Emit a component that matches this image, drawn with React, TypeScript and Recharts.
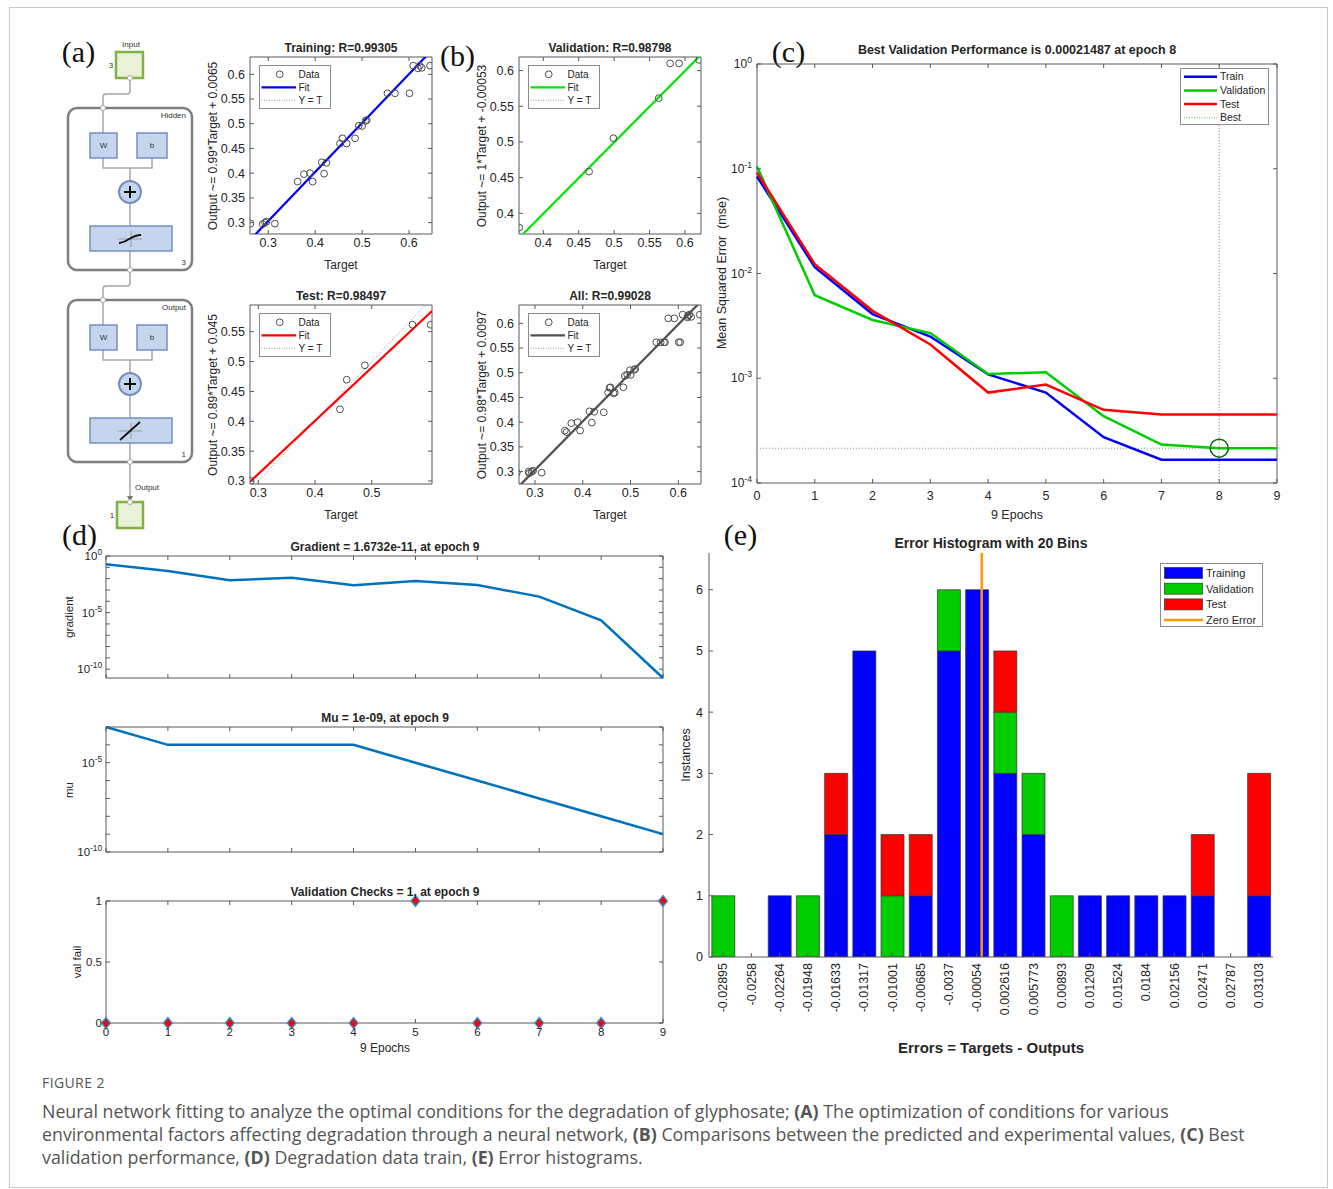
import React from "react";
import {
  ScatterChart,
  Scatter,
  LineChart,
  Line,
  BarChart,
  Bar,
  XAxis,
  YAxis,
  ReferenceLine,
  ReferenceArea,
  ReferenceDot,
} from "recharts";

const SANS = '"Liberation Sans", Arial, Helvetica, sans-serif';
const SERIF = '"Liberation Serif", "Times New Roman", serif';
const CAPTION = '"Open Sans", "Noto Sans", sans-serif';
const AX = "#595959";
const TX = "#262626";

// (b) regression: targets vs network outputs
const trainTarget = [0.262, 0.288, 0.293, 0.296, 0.314, 0.3625, 0.376, 0.389, 0.3945, 0.414, 0.419, 0.424, 0.453, 0.458, 0.467, 0.485, 0.493, 0.5, 0.5075, 0.51, 0.554, 0.57, 0.601, 0.609, 0.619, 0.623, 0.627, 0.645];
const trainOutput = [0.298, 0.297, 0.3, 0.302, 0.298, 0.383, 0.398, 0.4, 0.383, 0.422, 0.399, 0.421, 0.46, 0.4705, 0.46, 0.4705, 0.496, 0.4955, 0.506, 0.5076, 0.5616, 0.5616, 0.5616, 0.6175, 0.612, 0.6175, 0.613, 0.6175];
const valTarget = [0.366, 0.4646, 0.4989, 0.563, 0.579, 0.5917, 0.62];
const valOutput = [0.38, 0.4584, 0.5052, 0.5613, 0.61, 0.61, 0.615];
const testTarget = [0.2866, 0.444, 0.456, 0.488, 0.572, 0.604];
const testOutput = [0.3, 0.42, 0.4696, 0.4937, 0.5617, 0.5617];

// (c) performance
const epochs = [0, 1, 2, 3, 4, 5, 6, 7, 8, 9];
const perfTrain = [0.0843, 0.0115, 0.0041, 0.0025, 0.00109, 0.00073, 0.000274, 0.000167, 0.000167, 0.000167];
const perfVal = [0.105, 0.0062, 0.0036, 0.0027, 0.0011, 0.00114, 0.000434, 0.000233, 0.00021487, 0.00021487];
const perfTest = [0.092, 0.01225, 0.0044, 0.0021, 0.00073, 0.00087, 0.0005, 0.00045, 0.00045, 0.00045];
const bestEpoch = 8;
const bestPerf = 0.00021487;
const perfTicks = [1e-4, 1e-3, 1e-2, 1e-1, 1];

// (d) training state
const gradient = [0.19, 0.047, 0.0071, 0.0122, 0.0026, 0.0062, 0.0027, 0.00026, 2.1e-6, 1.6732e-11];
const mu = [1e-3, 1e-4, 1e-4, 1e-4, 1e-4, 1e-5, 1e-6, 1e-7, 1e-8, 1e-9];
const valFail = [0, 0, 0, 0, 0, 1, 0, 0, 0, 1];
const gradTicks = [1, 1e-1, 1e-2, 1e-3, 1e-4, 1e-5, 1e-6, 1e-7, 1e-8, 1e-9, 1e-10];
const muTicks = [1e-3, 1e-4, 1e-5, 1e-6, 1e-7, 1e-8, 1e-9, 1e-10];

// (e) error histogram
const binLabels = ["-0.02895", "-0.0258", "-0.02264", "-0.01948", "-0.01633", "-0.01317", "-0.01001", "-0.00685", "-0.0037", "-0.00054", "0.002616", "0.005773", "0.00893", "0.01209", "0.01524", "0.0184", "0.02156", "0.02471", "0.02787", "0.03103"];
const histTrain = [0, 0, 1, 0, 2, 5, 0, 1, 5, 6, 3, 2, 0, 1, 1, 1, 1, 1, 0, 1];
const histVal = [1, 0, 0, 1, 0, 0, 1, 0, 1, 0, 1, 1, 1, 0, 0, 0, 0, 0, 0, 0];
const histTest = [0, 0, 0, 0, 1, 0, 1, 1, 0, 0, 1, 0, 0, 0, 0, 0, 0, 1, 0, 2];
const histTicks = [0, 1, 2, 3, 4, 5, 6];
const zeroError = 0;

const pow10 = (v: number) => {
  const e = Math.round(Math.log10(v));
  return (
    <>
      <tspan>10</tspan>
      <tspan dy={-5} fontSize="0.72em">
        {String(e)}
      </tspan>
    </>
  );
};

type TickCfg = {
  span: number;
  gap: number;
  size?: number;
  len?: number;
  far?: boolean;
  fmt?: (v: any) => React.ReactNode;
  label?: (v: any) => boolean;
};

const bottomTick = (c: TickCfg) => (p: any) => {
  const { span, gap, size = 12, len = 4, far = true } = c;
  const fmt = c.fmt || ((v: any) => String(v));
  const label = c.label || (() => true);
  const v = p.payload.value;
  const ay = p.y - gap;
  return (
    <g>
      <line x1={p.x} x2={p.x} y1={ay} y2={ay - len} stroke={AX} />
      {far && <line x1={p.x} x2={p.x} y1={ay - span} y2={ay - span + len} stroke={AX} />}
      {label(v) && (
        <text x={p.x} y={p.y} dy="0.72em" textAnchor="middle" fontSize={size} fontFamily={SANS} fill={TX}>
          {fmt(v)}
        </text>
      )}
    </g>
  );
};

const leftTick = (c: TickCfg) => (p: any) => {
  const { span, gap, size = 12, len = 4, far = true } = c;
  const fmt = c.fmt || ((v: any) => String(v));
  const label = c.label || (() => true);
  const v = p.payload.value;
  const ax = p.x + gap;
  return (
    <g>
      <line x1={ax} x2={ax + len} y1={p.y} y2={p.y} stroke={AX} />
      {far && <line x1={ax + span} x2={ax + span - len} y1={p.y} y2={p.y} stroke={AX} />}
      {label(v) && (
        <text x={p.x} y={p.y} dy="0.35em" textAnchor="end" fontSize={size} fontFamily={SANS} fill={TX}>
          {fmt(v)}
        </text>
      )}
    </g>
  );
};

function Label({ x, y, text, size = 12, bold = false, rotate = 0, family = SANS, color = TX }: any) {
  return (
    <div
      style={{
        position: "absolute",
        left: x,
        top: y,
        transform: `translate(-50%, -50%) rotate(${rotate}deg)`,
        fontSize: size,
        fontWeight: bold ? 700 : 400,
        fontFamily: family,
        color,
        whiteSpace: "pre",
        lineHeight: 1,
      }}
    >
      {text}
    </div>
  );
}

const openCircle = (p: any) => <circle cx={p.cx} cy={p.cy} r={3.4} fill="none" stroke="#4d4d4d" strokeWidth={1} />;

function RegLegend({ x, y, color }: any) {
  return (
    <svg style={{ position: "absolute", left: x, top: y }} width={72} height={44}>
      <rect x={0.5} y={0.5} width={71} height={43} fill="#fff" stroke="#8c8c8c" />
      <circle cx={20.7} cy={9.3} r={3.4} fill="none" stroke="#4d4d4d" />
      <text x={39.5} y={9.3} dy="0.35em" fontSize={10} fontFamily={SANS} fill={TX}>Data</text>
      <line x1={2.5} x2={37} y1={22.3} y2={22.3} stroke={color} strokeWidth={2.2} />
      <text x={39.5} y={22.3} dy="0.35em" fontSize={10} fontFamily={SANS} fill={TX}>Fit</text>
      <line x1={2.5} x2={37} y1={35.3} y2={35.3} stroke="#9a9a9a" strokeDasharray="1 1.5" />
      <text x={39.5} y={35.3} dy="0.35em" fontSize={10} fontFamily={SANS} fill={TX}>Y = T</text>
    </svg>
  );
}

function RegPlot({ left, top, w, h, xDom, yDom, xTicks, yTicks, target, output, fit, color, title, ylabel }: any) {
  const L = 46, T = 6, R = 4, B = 22;
  const pts = target.map((t: number, i: number) => ({ t, o: output[i] }));
  const [a, b] = fit;
  const [x0, x1] = xDom;
  return (
    <>
      <div style={{ position: "absolute", left: left - L, top: top - T }}>
        <ScatterChart width={w + L + R} height={h + T + B} margin={{ top: T, right: R, bottom: 0, left: 0 }}>
          <XAxis type="number" dataKey="t" domain={xDom} ticks={xTicks} allowDataOverflow interval={0} tickSize={0} tickMargin={4} tickLine={false} axisLine={false} height={B} tick={bottomTick({ span: h, gap: 4, size: 12.5 })} />
          <YAxis type="number" dataKey="o" domain={yDom} ticks={yTicks} allowDataOverflow interval={0} tickSize={0} tickMargin={5} tickLine={false} axisLine={false} width={L} tick={leftTick({ span: w, gap: 5, size: 12.5 })} />
          <ReferenceArea x1={x0} x2={x1} y1={yDom[0]} y2={yDom[1]} fill="none" stroke={AX} ifOverflow="visible" />
          <ReferenceLine segment={[{ x: x0, y: x0 }, { x: x1, y: x1 }]} stroke="#8c8c8c" strokeDasharray="1 2" ifOverflow="hidden" />
          <ReferenceLine segment={[{ x: x0, y: a * x0 + b }, { x: x1, y: a * x1 + b }]} stroke={color} strokeWidth={2.2} ifOverflow="hidden" />
          <Scatter data={pts} isAnimationActive={false} shape={openCircle} />
        </ScatterChart>
      </div>
      <Label x={left + w / 2} y={top - 9} text={title} bold />
      <Label x={left - 37} y={top + h / 2} text={ylabel} rotate={-90} />
      <Label x={left + w / 2} y={top + h + 31} text="Target" />
      <RegLegend x={left + 9} y={top + 8} color={color} />
    </>
  );
}

function NetworkDiagram() {
  const G = "#a6a6a6";
  const bf = "#c6d5ee", bs = "#7090c4";
  const gf = "#e9f2d8", gs = "#7cb342";
  const small: any = { fontSize: 8, fontFamily: SANS, fill: "#333" };
  const layer = (top: number, name: string, n: string, lin: boolean) => {
    const cy = top + 131;
    return (
      <g key={name}>
        <rect x={68} y={top} width={124} height={162} rx={9} fill="#fff" stroke="#7f7f7f" strokeWidth={2.5} />
        <text x={186} y={top + 10} textAnchor="end" {...small}>{name}</text>
        <text x={186} y={top + 157} textAnchor="end" {...small}>{n}</text>
        <line x1={103} x2={103} y1={top} y2={top + 25} stroke={G} strokeWidth={1.5} />
        <path d={`M103 ${top + 50} V${top + 60} H152 V${top + 50} M130 ${top + 60} V${top + 73}`} fill="none" stroke={G} strokeWidth={1.5} />
        <line x1={130} x2={130} y1={top + 95} y2={top + 118} stroke={G} strokeWidth={1.5} />
        <line x1={130} x2={130} y1={top + 143} y2={top + 162} stroke={G} strokeWidth={1.5} />
        <rect x={90} y={top + 25} width={27} height={25} fill={bf} stroke={bs} strokeWidth={1.5} />
        <text x={103.5} y={top + 37.5} dy="0.35em" textAnchor="middle" {...small}>W</text>
        <rect x={137} y={top + 25} width={30} height={25} fill={bf} stroke={bs} strokeWidth={1.5} />
        <text x={152} y={top + 37.5} dy="0.35em" textAnchor="middle" {...small}>b</text>
        <circle cx={130} cy={top + 84} r={11} fill={bf} stroke={bs} strokeWidth={2} />
        <path d={`M124 ${top + 84} H136 M130 ${top + 78} V${top + 90}`} stroke="#111" strokeWidth={2} />
        <rect x={90} y={top + 118} width={82} height={25} fill={bf} stroke={bs} strokeWidth={1.5} />
        <path d={`M118 ${cy} H142 M131 ${cy - 8} V${cy + 8}`} stroke="#9a9a9a" strokeWidth={1} />
        {lin ? (
          <line x1={120} y1={cy + 9} x2={140} y2={cy - 9} stroke="#111" strokeWidth={1.8} />
        ) : (
          <path d={`M119 ${cy + 4} C127 ${cy + 4}, 131 ${cy - 4}, 141 ${cy - 4}`} fill="none" stroke="#111" strokeWidth={1.8} />
        )}
        <circle cx={103} cy={top} r={2.5} fill="#fff" stroke={G} />
        <circle cx={130} cy={top + 162} r={2.5} fill="#fff" stroke={G} />
      </g>
    );
  };
  return (
    <svg style={{ position: "absolute", left: 0, top: 0 }} width={200} height={540}>
      <text x={131} y={47} textAnchor="middle" {...small}>Input</text>
      <text x={111} y={68} textAnchor="middle" {...small}>3</text>
      <path d="M130 78 V91 Q130 94 127 94 H106 Q103 94 103 97 V108" fill="none" stroke={G} strokeWidth={1.5} />
      <path d="M130 270 V283 Q130 286 127 286 H106 Q103 286 103 289 V300" fill="none" stroke={G} strokeWidth={1.5} />
      <line x1={130} x2={130} y1={462} y2={498} stroke={G} strokeWidth={1.5} />
      <path d="M127 496 L130 502 L133 496 Z" fill="#777" />
      {layer(108, "Hidden", "3", false)}
      {layer(300, "Output", "1", true)}
      <rect x={116} y={52} width={27} height={26} fill={gf} stroke={gs} strokeWidth={2.5} />
      <circle cx={130} cy={78} r={2.5} fill="#fff" stroke={G} />
      <text x={147} y={490} textAnchor="middle" {...small}>Output</text>
      <rect x={117} y={502} width={26} height={26} fill={gf} stroke={gs} strokeWidth={2.5} />
      <circle cx={130} cy={502} r={2.5} fill="#fff" stroke={G} />
      <text x={112} y={518} textAnchor="middle" {...small}>1</text>
    </svg>
  );
}

function PerfPanel() {
  const left = 757, top = 64, w = 520, h = 419;
  const L = 50, T = 14, R = 6, B = 24;
  const rows = epochs.map((e, i) => ({ epoch: e, train: perfTrain[i], val: perfVal[i], test: perfTest[i] }));
  const leg = [
    ["Train", "#0000ff", false],
    ["Validation", "#00cc00", false],
    ["Test", "#ff0000", false],
    ["Best", "#66aa66", true],
  ] as const;
  return (
    <>
      <div style={{ position: "absolute", left: left - L, top: top - T }}>
        <LineChart width={w + L + R} height={h + T + B} data={rows} margin={{ top: T, right: R, bottom: 0, left: 0 }}>
          <XAxis type="number" dataKey="epoch" domain={[0, 9]} ticks={epochs} interval={0} tickSize={0} tickMargin={8} tickLine={false} axisLine={false} height={B} tick={bottomTick({ span: h, gap: 8, size: 12.5 })} />
          <YAxis type="number" scale="log" domain={[1e-4, 1]} ticks={perfTicks} allowDataOverflow interval={0} tickSize={0} tickMargin={5} tickLine={false} axisLine={false} width={L} tick={leftTick({ span: w, gap: 5, size: 12, fmt: pow10 })} />
          <ReferenceArea x1={0} x2={9} y1={1e-4} y2={1} fill="none" stroke={AX} ifOverflow="visible" />
          <ReferenceLine x={bestEpoch} stroke="#66aa66" strokeDasharray="1 2" />
          <ReferenceLine y={bestPerf} stroke="#66aa66" strokeDasharray="1 2" />
          <Line dataKey="train" stroke="#0000ff" strokeWidth={2.5} dot={false} isAnimationActive={false} />
          <Line dataKey="val" stroke="#00cc00" strokeWidth={2.5} dot={false} isAnimationActive={false} />
          <Line dataKey="test" stroke="#ff0000" strokeWidth={2.5} dot={false} isAnimationActive={false} />
          <ReferenceDot x={bestEpoch} y={bestPerf} r={9} fill="none" stroke="#006e00" strokeWidth={1.5} />
        </LineChart>
      </div>
      <Label x={1017} y={50} text="Best Validation Performance is 0.00021487 at epoch 8" bold size={12.5} />
      <Label x={722} y={273} text="Mean Squared Error  (mse)" rotate={-90} size={12.5} />
      <Label x={1017} y={515} text="9 Epochs" size={12.5} />
      <svg style={{ position: "absolute", left: 1180, top: 68 }} width={89} height={57}>
        <rect x={0.5} y={0.5} width={88} height={56} fill="#fff" stroke="#8c8c8c" />
        {leg.map(([n, c, d], i) => (
          <g key={n}>
            <line x1={4} x2={37} y1={8.7 + i * 13.7} y2={8.7 + i * 13.7} stroke={c} strokeWidth={d ? 1 : 2.5} strokeDasharray={d ? "1 1.5" : undefined} />
            <text x={40} y={8.7 + i * 13.7} dy="0.35em" fontSize={10.5} fontFamily={SANS} fill={TX}>{n}</text>
          </g>
        ))}
      </svg>
    </>
  );
}

function StatePlot({ top, h, values, dom, ticks, log, labelled, showX, title, ylabel, yl, marks }: any) {
  const left = 106, w = 557;
  const L = 40, T = 14, R = 8, B = showX ? 20 : 6;
  const rows = epochs.map((e, i) => ({ epoch: e, v: values[i] }));
  const yFmt = log ? pow10 : (v: number) => String(v);
  const xAxis = (
    <XAxis type="number" dataKey="epoch" domain={[0, 9]} ticks={epochs} interval={0} tickSize={0} tickMargin={5} tickLine={false} axisLine={false} height={B} tick={bottomTick({ span: h, gap: 5, size: 11.5, label: () => showX })} />
  );
  const yAxis = (
    <YAxis type="number" dataKey="v" scale={log ? "log" : "linear"} domain={dom} ticks={ticks} interval={0} tickSize={0} tickMargin={4} tickLine={false} axisLine={false} width={L} tick={leftTick({ span: w, gap: 4, size: 11.5, fmt: yFmt, label: labelled })} />
  );
  const frame = <ReferenceArea x1={0} x2={9} y1={dom[0]} y2={dom[1]} fill="none" stroke={AX} ifOverflow="visible" />;
  const diamond = (p: any) => (
    <polygon points={`${p.cx},${p.cy - 5.5} ${p.cx + 4.5},${p.cy} ${p.cx},${p.cy + 5.5} ${p.cx - 4.5},${p.cy}`} fill="#ff0000" stroke="#3d8fd6" strokeWidth={1.2} />
  );
  return (
    <>
      <div style={{ position: "absolute", left: left - L, top: top - T }}>
        {marks ? (
          <ScatterChart width={w + L + R} height={h + T + B} margin={{ top: T, right: R, bottom: 0, left: 0 }}>
            {xAxis}
            {yAxis}
            {frame}
            <Scatter data={rows} isAnimationActive={false} shape={diamond} />
          </ScatterChart>
        ) : (
          <LineChart width={w + L + R} height={h + T + B} data={rows} margin={{ top: T, right: R, bottom: 0, left: 0 }}>
            {xAxis}
            {yAxis}
            {frame}
            <Line dataKey="v" stroke="#0072bd" strokeWidth={2.5} dot={false} isAnimationActive={false} />
          </LineChart>
        )}
      </div>
      <Label x={385} y={top - 9} text={title} bold size={12} />
      <Label x={yl} y={top + h / 2} text={ylabel} rotate={-90} size={11.5} />
    </>
  );
}

function HistPanel() {
  const left = 709, top = 553, w = 564, h = 404;
  const L = 30, T = 2, R = 4, B = 62;
  const centers = binLabels.map((s) => Number(s));
  const rows = binLabels.map((bin, i) => ({ bin, c: centers[i], train: histTrain[i], val: histVal[i], test: histTest[i] }));
  const half = (centers[centers.length - 1] - centers[0]) / (centers.length - 1) / 2;
  const numDom = [centers[0] - half, centers[centers.length - 1] + half];
  const xTick = (p: any) => {
    const ay = p.y - 6;
    return (
      <g>
        <line x1={p.x} x2={p.x} y1={ay} y2={ay - 4} stroke={AX} />
        <text transform={`rotate(-90 ${p.x} ${p.y})`} x={p.x} y={p.y} dy="0.35em" textAnchor="end" fontSize={12.5} fontFamily={SANS} fill={TX}>
          {p.payload.value}
        </text>
      </g>
    );
  };
  const leg = [
    ["Training", "#0000ff"],
    ["Validation", "#00cc00"],
    ["Test", "#ff0000"],
  ];
  return (
    <>
      <div style={{ position: "absolute", left: left - L, top: top - T }}>
        <BarChart width={w + L + R} height={h + T + B} data={rows} margin={{ top: T, right: R, bottom: 0, left: 0 }} barCategoryGap="10%">
          <XAxis xAxisId="cat" dataKey="bin" type="category" interval={0} tickSize={0} tickMargin={6} tickLine={false} axisLine={{ stroke: AX }} height={B} tick={xTick} />
          <XAxis xAxisId="num" dataKey="c" type="number" domain={numDom} allowDataOverflow hide />
          <YAxis type="number" domain={[0, 6.6]} ticks={histTicks} allowDataOverflow interval={0} tickSize={0} tickMargin={6} tickLine={false} axisLine={{ stroke: AX }} width={L} tick={leftTick({ span: 0, gap: 6, size: 12.5, far: false })} />
          <Bar xAxisId="cat" dataKey="train" stackId="s" fill="#0000ff" stroke="#333" strokeWidth={0.7} isAnimationActive={false} />
          <Bar xAxisId="cat" dataKey="val" stackId="s" fill="#00cc00" stroke="#333" strokeWidth={0.7} isAnimationActive={false} />
          <Bar xAxisId="cat" dataKey="test" stackId="s" fill="#ff0000" stroke="#333" strokeWidth={0.7} isAnimationActive={false} />
          <ReferenceLine xAxisId="num" x={zeroError} stroke="#ff9900" strokeWidth={2.5} ifOverflow="visible" />
        </BarChart>
      </div>
      <Label x={991} y={543} text="Error Histogram with 20 Bins" bold size={14} />
      <Label x={686} y={755} text="Instances" rotate={-90} size={12.5} />
      <Label x={991} y={1047} text="Errors = Targets - Outputs" bold size={15} />
      <svg style={{ position: "absolute", left: 1160, top: 563 }} width={104} height={65}>
        <rect x={0.5} y={0.5} width={102} height={63} fill="#fff" stroke="#8c8c8c" />
        {leg.map(([n, c], i) => (
          <g key={n}>
            <rect x={4.5} y={4.5 + i * 15.7} width={38} height={11} fill={c} stroke="#333" strokeWidth={0.7} />
            <text x={46} y={10 + i * 15.7} dy="0.35em" fontSize={11} fontFamily={SANS} fill={TX}>{n}</text>
          </g>
        ))}
        <line x1={4} x2={43} y1={57} y2={57} stroke="#ff9900" strokeWidth={2.5} />
        <text x={46} y={57} dy="0.35em" fontSize={11} fontFamily={SANS} fill={TX}>Zero Error</text>
      </svg>
    </>
  );
}

const capLine: any = {
  position: "absolute",
  left: 42,
  fontFamily: CAPTION,
  fontSize: 17.8,
  color: "#555",
  whiteSpace: "nowrap",
  lineHeight: "20px",
};

export default function App() {
  const regTicks = [0.3, 0.35, 0.4, 0.45, 0.5, 0.55, 0.6];
  return (
    <div style={{ position: "relative", width: 1333, height: 1189, background: "#fff", overflow: "hidden" }}>
      <style>{"body{margin:0}"}</style>
      <div style={{ position: "absolute", left: 9, top: 7, width: 1317, height: 1179, border: "1px solid #c8c8c8" }} />

      <NetworkDiagram />
      <Label x={78.5} y={52} text="(a)" family={SERIF} size={30} color="#111" />
      <Label x={457.5} y={55.5} text="(b)" family={SERIF} size={30} color="#111" />
      <Label x={788.5} y={52} text="(c)" family={SERIF} size={30} color="#111" />
      <Label x={79.5} y={535} text="(d)" family={SERIF} size={30} color="#111" />
      <Label x={740.5} y={535} text="(e)" family={SERIF} size={30} color="#111" />

      <RegPlot left={250} top={57} w={182} h={177} xDom={[0.261, 0.649]} yDom={[0.277, 0.635]} xTicks={[0.3, 0.4, 0.5, 0.6]} yTicks={regTicks} target={trainTarget} output={trainOutput} fit={[0.99, 0.0065]} color="#0000ff" title="Training: R=0.99305" ylabel="Output ~= 0.99*Target + 0.0065" />
      <RegPlot left={519} top={57} w={182} h={177} xDom={[0.3657, 0.6226]} yDom={[0.371, 0.619]} xTicks={[0.4, 0.45, 0.5, 0.55, 0.6]} yTicks={[0.4, 0.45, 0.5, 0.55, 0.6]} target={valTarget} output={valOutput} fit={[1, -0.00053]} color="#00e600" title="Validation: R=0.98798" ylabel="Output ~= 1*Target + -0.00053" />
      <RegPlot left={250} top={305} w={182} h={179} xDom={[0.2853, 0.6064]} yDom={[0.295, 0.5947]} xTicks={[0.3, 0.4, 0.5]} yTicks={[0.3, 0.35, 0.4, 0.45, 0.5, 0.55]} target={testTarget} output={testOutput} fit={[0.89, 0.045]} color="#ff0000" title="Test: R=0.98497" ylabel="Output ~= 0.89*Target + 0.045" />
      <RegPlot left={519} top={305} w={182} h={179} xDom={[0.2665, 0.6475]} yDom={[0.275, 0.637]} xTicks={[0.3, 0.4, 0.5, 0.6]} yTicks={regTicks} target={[...trainTarget, ...valTarget, ...testTarget]} output={[...trainOutput, ...valOutput, ...testOutput]} fit={[0.98, 0.0097]} color="#505050" title="All: R=0.99028" ylabel="Output ~= 0.98*Target + 0.0097" />

      <PerfPanel />

      <StatePlot top={556} h={122} values={gradient} dom={[1.6732e-11, 1]} ticks={gradTicks} log labelled={(v: number) => [0, -5, -10].includes(Math.round(Math.log10(v)))} showX={false} title="Gradient = 1.6732e-11, at epoch 9" ylabel="gradient" yl={70} />
      <StatePlot top={727} h={125} values={mu} dom={[1e-10, 1e-3]} ticks={muTicks} log labelled={(v: number) => [-5, -10].includes(Math.round(Math.log10(v)))} showX={false} title="Mu = 1e-09, at epoch 9" ylabel="mu" yl={70} />
      <StatePlot top={901} h={122} values={valFail} dom={[0, 1]} ticks={[0, 0.5, 1]} log={false} labelled={() => true} showX title="Validation Checks = 1, at epoch 9" ylabel="val fail" yl={78} marks />
      <Label x={385} y={1048} text="9 Epochs" size={12} />

      <HistPanel />

      <div style={{ ...capLine, top: 1073, fontSize: 14, letterSpacing: 0.4 }}>FIGURE 2</div>
      <div style={{ ...capLine, top: 1100.7 }}>
        Neural network fitting to analyze the optimal conditions for the degradation of glyphosate; <b>(A)</b> The optimization of conditions for various
      </div>
      <div style={{ ...capLine, top: 1124 }}>
        environmental factors affecting degradation through a neural network, <b>(B)</b> Comparisons between the predicted and experimental values, <b>(C)</b> Best
      </div>
      <div style={{ ...capLine, top: 1147.3 }}>
        validation performance, <b>(D)</b> Degradation data train, <b>(E)</b> Error histograms.
      </div>
    </div>
  );
}
